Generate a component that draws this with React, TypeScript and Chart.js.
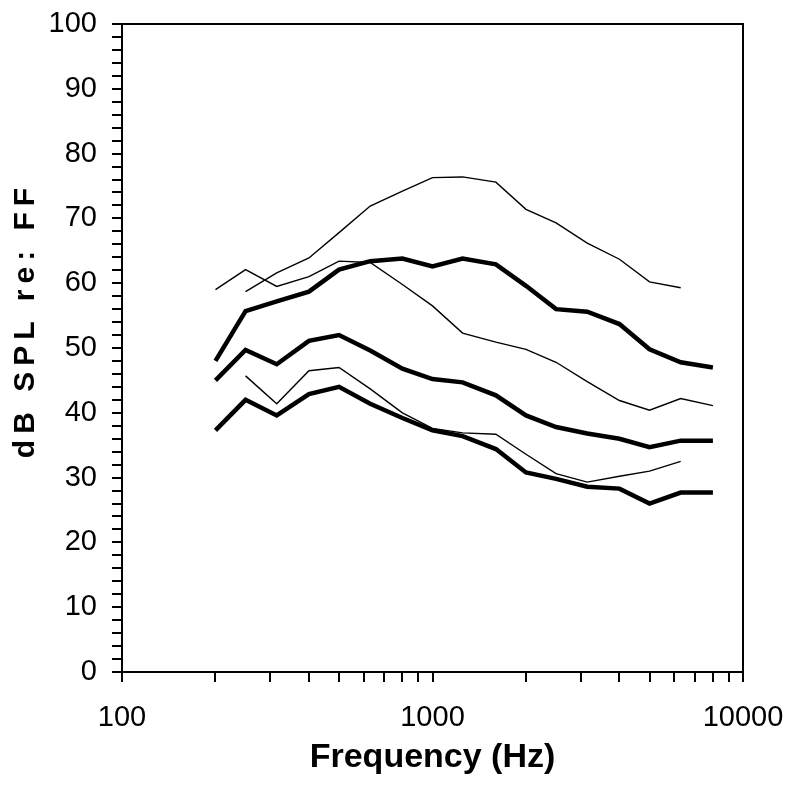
import React, { useEffect, useRef } from "react";
import { Chart, registerables } from "chart.js";

Chart.register(...registerables);

// 1/3-octave centre frequencies (Hz)
const frequencies = [200, 250, 315, 400, 500, 630, 800, 1000, 1250, 1600, 2000, 2500, 3150, 4000, 5000, 6300, 8000];

// Thick curves (dB SPL re: FF)
const thickUpper = [48.0, 55.7, 57.2, 58.7, 62.1, 63.4, 63.8, 62.6, 63.8, 62.9, 59.6, 56.0, 55.6, 53.7, 49.8, 47.8, 47.0];
const thickMiddle = [45.0, 49.7, 47.5, 51.1, 52.0, 49.6, 46.8, 45.2, 44.7, 42.7, 39.6, 37.8, 36.8, 36.0, 34.7, 35.7, 35.7];
const thickLower = [37.3, 42.0, 39.6, 42.9, 44.0, 41.4, 39.2, 37.3, 36.4, 34.4, 30.8, 29.8, 28.6, 28.3, 26.0, 27.7, 27.7];

// Thin curves
const thinUpper = [null, 58.7, 61.6, 63.9, 67.8, 71.9, 74.2, 76.3, 76.4, 75.6, 71.4, 69.3, 66.2, 63.7, 60.2, 59.3, null];
const thinMiddle = [59.0, 62.1, 59.5, 61.0, 63.4, 63.2, 59.8, 56.5, 52.3, 50.9, 49.8, 47.8, 44.8, 41.9, 40.4, 42.2, 41.1];
const thinLower = [null, 45.7, 41.4, 46.5, 47.0, 43.7, 40.0, 37.6, 36.9, 36.7, 33.6, 30.6, 29.3, 30.2, 31.0, 32.5, null];

// Axis ticks
const xTickValues = [100, 200, 300, 400, 500, 600, 700, 800, 900, 1000, 2000, 3000, 4000, 5000, 6000, 7000, 8000, 9000, 10000];
const xLabelValues = [100, 1000, 10000];
const yLabelValues = [0, 10, 20, 30, 40, 50, 60, 70, 80, 90, 100];

const xTitle = "Frequency (Hz)";
const yTitle = "dB SPL re: FF";

const FONT = '"Liberation Sans", Arial, Helvetica, sans-serif';

function toPoints(values: (number | null)[]) {
  const pts: { x: number; y: number }[] = [];
  values.forEach((v, i) => {
    if (v !== null && v !== undefined) pts.push({ x: frequencies[i], y: v });
  });
  return pts;
}

const framePlugin = {
  id: "frame",
  afterLayout(chart: any) {
    const y = chart.scales.y;
    if (y && !y.__patched) {
      y.__patched = true;
      y.drawTitle = function () {
        const ctx = this.ctx;
        const area = chart.chartArea;
        ctx.save();
        ctx.translate(26, (area.top + area.bottom) / 2 - 25);
        ctx.rotate(-Math.PI / 2);
        ctx.font = `bold 30px ${FONT}`;
        try {
          (ctx as any).letterSpacing = "6px";
        } catch (e) {}
        ctx.textAlign = "center";
        ctx.textBaseline = "middle";
        ctx.fillStyle = "#000";
        ctx.fillText(this.options.title.text, 3, 0);
        ctx.restore();
      };
    }
  },
  afterDraw(chart: any) {
    const { ctx, chartArea } = chart;
    ctx.save();
    ctx.strokeStyle = "#000";
    ctx.lineWidth = 2;
    ctx.beginPath();
    ctx.moveTo(chartArea.left, chartArea.top);
    ctx.lineTo(chartArea.right, chartArea.top);
    ctx.lineTo(chartArea.right, chartArea.bottom);
    ctx.stroke();
    ctx.restore();
  },
};

export default function App() {
  const canvasRef = useRef<HTMLCanvasElement | null>(null);

  useEffect(() => {
    document.body.style.margin = "0";
    document.body.style.background = "#fff";
    const canvas = canvasRef.current;
    if (!canvas) return;

    const thick = (label: string, values: (number | null)[]) => ({
      label,
      data: toPoints(values),
      borderColor: "#000",
      backgroundColor: "#000",
      borderWidth: 4.5,
      pointRadius: 0,
      tension: 0,
      fill: false,
    });
    const thin = (label: string, values: (number | null)[]) => ({
      label,
      data: toPoints(values),
      borderColor: "#000",
      backgroundColor: "#000",
      borderWidth: 1.4,
      pointRadius: 0,
      tension: 0,
      fill: false,
    });

    const chart = new Chart(canvas, {
      type: "line",
      data: {
        datasets: [
          thin("Thin upper", thinUpper),
          thin("Thin middle", thinMiddle),
          thin("Thin lower", thinLower),
          thick("Thick upper", thickUpper),
          thick("Thick middle", thickMiddle),
          thick("Thick lower", thickLower),
        ],
      },
      options: {
        animation: false,
        responsive: false,
        maintainAspectRatio: false,
        layout: { padding: { top: 24, right: 45, left: 0, bottom: 0 } },
        plugins: {
          legend: { display: false },
          tooltip: { enabled: false },
        },
        scales: {
          x: {
            type: "logarithmic",
            position: "bottom",
            min: 100,
            max: 10000,
            afterBuildTicks: (scale: any) => {
              scale.ticks = xTickValues.map((v) => ({ value: v }));
            },
            afterFit: (scale: any) => {
              scale.height = 116;
              scale.paddingLeft = 0;
              scale.paddingRight = 0;
            },
            ticks: {
              autoSkip: false,
              maxRotation: 0,
              minRotation: 0,
              padding: 19,
              color: "#000",
              font: { family: FONT, size: 29 },
              callback: (value: any) => (xLabelValues.includes(Number(value)) ? String(value) : ""),
            },
            grid: {
              display: true,
              drawOnChartArea: false,
              drawTicks: true,
              tickLength: 10,
              color: "#000",
              lineWidth: 2,
            },
            border: { display: true, color: "#000", width: 2 },
            title: {
              display: true,
              text: xTitle,
              color: "#000",
              font: { family: FONT, size: 34, weight: "bold" },
              padding: { top: 0, bottom: 10 },
            },
          },
          y: {
            type: "linear",
            position: "left",
            min: 0,
            max: 100,
            afterFit: (scale: any) => {
              scale.width = 122;
              scale.paddingTop = 0;
              scale.paddingBottom = 0;
            },
            ticks: {
              stepSize: 2,
              autoSkip: false,
              padding: 15,
              color: "#000",
              font: { family: FONT, size: 29 },
              callback: (value: any) => (yLabelValues.includes(Number(value)) ? String(value) : ""),
            },
            grid: {
              display: true,
              drawOnChartArea: false,
              drawTicks: true,
              tickLength: 10,
              color: "#000",
              lineWidth: 2,
            },
            border: { display: true, color: "#000", width: 2 },
            title: {
              display: true,
              text: yTitle,
              color: "#000",
              font: { family: FONT, size: 30, weight: "bold" },
              padding: 8,
            },
          },
        },
      },
      plugins: [framePlugin],
    } as any);

    return () => {
      chart.destroy();
    };
  }, []);

  return (
    <div style={{ width: 788, height: 788, background: "#fff" }}>
      <canvas ref={canvasRef} width={788} height={788} style={{ display: "block" }} />
    </div>
  );
}
